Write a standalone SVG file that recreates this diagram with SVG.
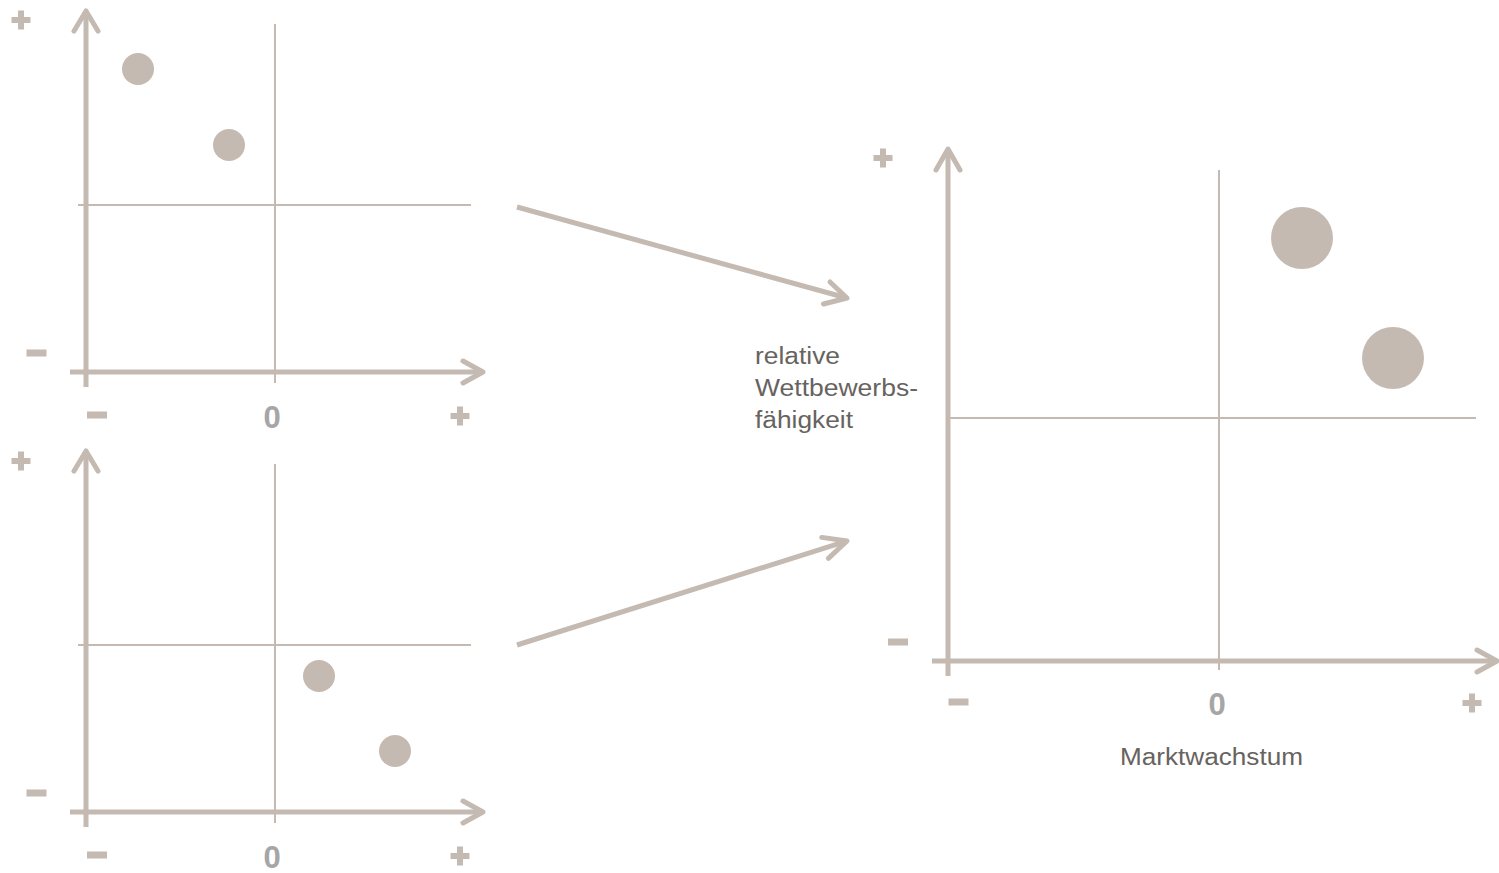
<svg xmlns="http://www.w3.org/2000/svg" width="1499" height="873" viewBox="0 0 1499 873">
<style>
.ax{stroke:#c4bab1;stroke-width:5;fill:none;stroke-linecap:butt}
.ah{stroke:#c4bab1;stroke-width:5;fill:none;stroke-linecap:round;stroke-linejoin:round}
.th{stroke:#c4bab1;stroke-width:2;fill:none}
.dot{fill:#c4bab1}
.sg{fill:#c4bab1}
.zero{font-family:"Liberation Sans",Arial,sans-serif;font-weight:700;font-size:31px;fill:#a6a6a6;text-anchor:middle}
.lbl{font-family:"Liberation Sans",Arial,sans-serif;font-size:23.5px;fill:#67635f}
</style>
<defs>
<g id="plus"><rect x="-9.5" y="-3" width="19" height="6"/><rect x="-3" y="-9.5" width="6" height="19"/></g>
<g id="minus"><rect x="-10" y="-3.5" width="20" height="7"/></g>
</defs>

<g id="chart-top">
<line class="th" x1="275" y1="24" x2="275" y2="383"/>
<line class="th" x1="78" y1="205" x2="471" y2="205"/>
<line class="ax" x1="86" y1="12" x2="86" y2="387"/>
<polyline class="ah" points="74,31 86,11 98,31"/>
<line class="ax" x1="70" y1="372" x2="481" y2="372"/>
<polyline class="ah" points="463,361 483,372 463,383"/>
<circle class="dot" cx="138" cy="69" r="16"/>
<circle class="dot" cx="229" cy="145" r="16"/>
<use href="#plus" class="sg" x="21" y="20"/>
<use href="#minus" class="sg" x="36.5" y="353"/>
<use href="#minus" class="sg" x="97" y="415"/>
<use href="#plus" class="sg" x="460" y="416"/>
<text class="zero" x="272" y="428">0</text>
</g>

<g id="chart-bottom">
<line class="th" x1="275" y1="464" x2="275" y2="823"/>
<line class="th" x1="78" y1="645" x2="471" y2="645"/>
<line class="ax" x1="86" y1="452" x2="86" y2="827"/>
<polyline class="ah" points="74,471 86,451 98,471"/>
<line class="ax" x1="70" y1="812" x2="481" y2="812"/>
<polyline class="ah" points="463,801 483,812 463,823"/>
<circle class="dot" cx="319" cy="676" r="16"/>
<circle class="dot" cx="395" cy="751" r="16"/>
<use href="#plus" class="sg" x="21" y="461"/>
<use href="#minus" class="sg" x="36.5" y="793"/>
<use href="#minus" class="sg" x="97" y="855"/>
<use href="#plus" class="sg" x="460" y="856"/>
<text class="zero" x="272" y="868">0</text>
</g>

<g id="chart-main">
<line class="th" x1="1219" y1="170" x2="1219" y2="670"/>
<line class="th" x1="948" y1="418" x2="1476" y2="418"/>
<line class="ax" x1="948" y1="150" x2="948" y2="676"/>
<polyline class="ah" points="936,170 948,149 960,170"/>
<line class="ax" x1="932" y1="661" x2="1495" y2="661"/>
<polyline class="ah" points="1477,650 1497,661 1477,672"/>
<circle class="dot" cx="1302" cy="238" r="31"/>
<circle class="dot" cx="1393" cy="358" r="31"/>
<use href="#plus" class="sg" x="883" y="158"/>
<use href="#minus" class="sg" x="898" y="642"/>
<use href="#minus" class="sg" x="958.5" y="702"/>
<use href="#plus" class="sg" x="1472" y="703"/>
<text class="zero" x="1217" y="715">0</text>
<text class="lbl" x="755" y="364" textLength="85" lengthAdjust="spacingAndGlyphs">relative</text>
<text class="lbl" x="755" y="396" textLength="163" lengthAdjust="spacingAndGlyphs">Wettbewerbs-</text>
<text class="lbl" x="755" y="428" textLength="98" lengthAdjust="spacingAndGlyphs">fähigkeit</text>
<text class="lbl" x="1120" y="765" textLength="183" lengthAdjust="spacingAndGlyphs">Marktwachstum</text>
</g>

<g id="connectors">
<line class="ax" x1="517" y1="207" x2="845" y2="297.5"/>
<polyline class="ah" points="823.5,304 847,298 830,282"/>
<line class="ax" x1="517" y1="645" x2="845" y2="541.6"/>
<polyline class="ah" points="828.4,558.4 847,541 821.8,537.4"/>
</g>
</svg>
